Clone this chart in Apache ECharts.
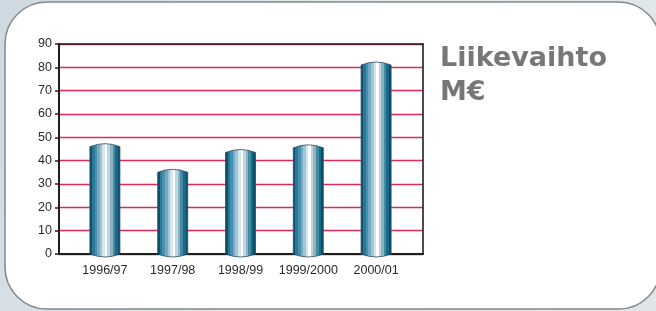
<!DOCTYPE html>
<html>
<head>
<meta charset="utf-8">
<script src="https://cdn.jsdelivr.net/npm/echarts@6/dist/echarts.min.js"></script>
<style>
  html, body { margin: 0; padding: 0; }
  #chart { width: 656px; height: 311px; }
</style>
</head>
<body>
<div id="chart"></div>
<script>
const categories = ["1996/97", "1997/98", "1998/99", "1999/2000", "2000/01"];
const revenue = [46, 35, 43.5, 45.5, 81];
const yTicks = [0, 10, 20, 30, 40, 50, 60, 70, 80, 90];
const titleLines = ["Liikevaihto", "M€"];

// banded stripes across the cylinder, left to right
const stripeColors = [
  "#0c5070", "#2a7898", "#4a8fae", "#74abc3", "#a2c6d7", "#d3e5ed",
  "#ffffff", "#bed6e2", "#8bb4c9", "#47899f", "#186a8b", "#084f6c"
];

function stripeGradient() {
  const stops = [];
  const n = stripeColors.length;
  stripeColors.forEach((c, i) => {
    stops.push({ offset: i / n, color: c });
    stops.push({ offset: (i + 1) / n, color: c });
  });
  return new echarts.graphic.LinearGradient(0, 0, 1, 0, stops);
}

const chart = echarts.init(document.getElementById("chart"));

const yMax = yTicks[yTicks.length - 1];
const plot = { left: 59, right: 233, top: 44, bottom: 57 };
const frameLine = { show: true, onZero: false, lineStyle: { color: "#1e1e1e", width: 1.6 } };
const labelFont = { color: "#2a2a2a", fontFamily: "Liberation Sans", fontSize: 12.5 };

const option = {
  backgroundColor: new echarts.graphic.LinearGradient(0, 0, 1, 1, [
    { offset: 0, color: "#cdd9e0" },
    { offset: 0.5, color: "#e4e9ec" },
    { offset: 1, color: "#dfe5e8" }
  ]),
  animation: false,
  graphic: [
    {
      type: "rect",
      z: -10,
      shape: { x: 5, y: 2, width: 655.5, height: 307, r: 42 },
      style: { fill: "#ffffff", stroke: "#85888b", lineWidth: 1.5 }
    },
    {
      type: "text",
      left: 440,
      top: 42,
      style: {
        text: titleLines.join("\n"),
        font: "bold 27px 'DejaVu Sans'",
        lineHeight: 34,
        fill: "#75777a"
      }
    }
  ],
  grid: [
    plot,
    { left: 71, right: 246, top: plot.top, bottom: plot.bottom }
  ],
  xAxis: [
    {
      gridIndex: 0,
      type: "value",
      min: 0,
      max: 1,
      axisLine: { show: true, onZero: false, lineStyle: { color: "#1e1e1e", width: 2 } },
      axisTick: { show: false },
      axisLabel: { show: false },
      splitLine: { show: false }
    },
    {
      gridIndex: 0,
      type: "value",
      position: "top",
      min: 0,
      max: 1,
      z: 5,
      axisLine: frameLine,
      axisTick: { show: false },
      axisLabel: { show: false },
      splitLine: { show: false }
    },
    {
      gridIndex: 1,
      type: "category",
      data: categories,
      axisLine: { show: false },
      axisTick: { show: false },
      axisLabel: Object.assign({ margin: 10, interval: 0 }, labelFont)
    }
  ],
  yAxis: [
    {
      gridIndex: 0,
      type: "value",
      min: 0,
      max: yMax,
      interval: 10,
      axisLine: { show: true, onZero: false, lineStyle: { color: "#1e1e1e", width: 2 } },
      axisTick: { show: true, length: 4, lineStyle: { color: "#1e1e1e", width: 1.5 } },
      axisLabel: Object.assign({ margin: 7 }, labelFont),
      splitLine: { show: true, lineStyle: { color: "#da2a5c", width: 1.3 } }
    },
    {
      gridIndex: 0,
      type: "value",
      position: "right",
      min: 0,
      max: yMax,
      z: 5,
      axisLine: frameLine,
      axisTick: { show: false },
      axisLabel: { show: false },
      splitLine: { show: false }
    },
    {
      gridIndex: 1,
      type: "value",
      min: 0,
      max: yMax,
      show: false
    }
  ],
  series: [
    {
      type: "custom",
      xAxisIndex: 2,
      yAxisIndex: 2,
      data: revenue.map((v, i) => [i, v]),
      renderItem: function (params, api) {
        const top = api.coord([api.value(0), api.value(1)]);
        const base = api.coord([api.value(0), 0]);
        const w = 30;
        const x0 = top[0] - w / 2;
        const x1 = top[0] + w / 2;
        const cap = 3;
        const d =
          "M" + x0 + " " + top[1] +
          " Q" + top[0] + " " + (top[1] - 2 * cap) + " " + x1 + " " + top[1] +
          " L" + x1 + " " + base[1] +
          " Q" + top[0] + " " + (base[1] + 2 * cap) + " " + x0 + " " + base[1] +
          " Z";
        return {
          type: "path",
          shape: { pathData: d },
          style: { fill: stripeGradient(), stroke: "#2c4a5a", lineWidth: 0.8 }
        };
      }
    }
  ]
};

chart.setOption(option);
</script>
</body>
</html>
